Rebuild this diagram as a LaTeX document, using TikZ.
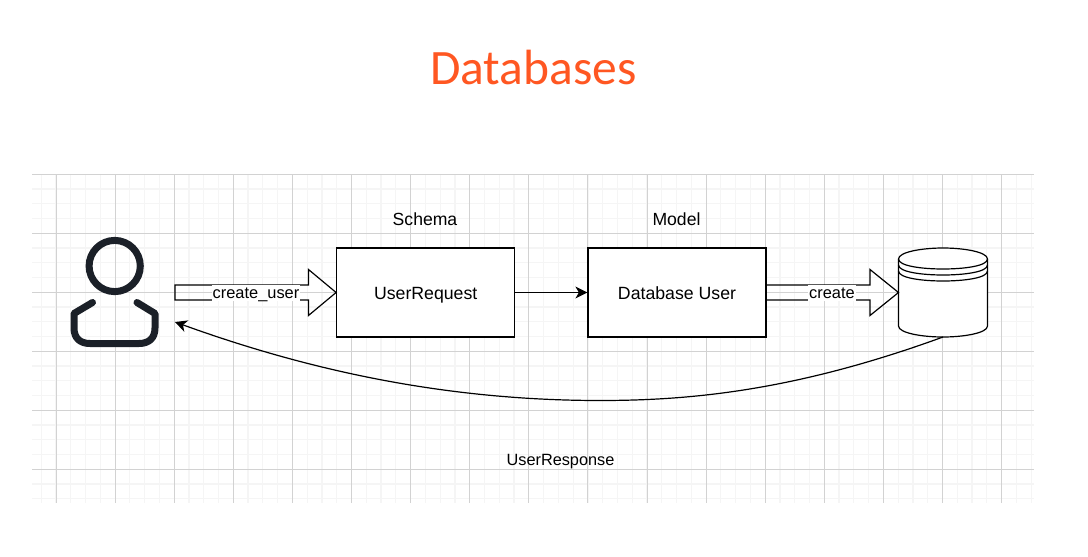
\documentclass[tikz,border=0pt]{standalone}
\usepackage{fontspec}
\setmainfont{Liberation Sans}
\newfontfamily\titlefont{Carlito}
\usetikzlibrary{arrows.meta}
\definecolor{gmajor}{RGB}{210,210,210}
\definecolor{gminor}{RGB}{245,245,245}
\definecolor{titleor}{RGB}{255,87,34}
\definecolor{icon}{RGB}{27,32,40}
\tikzset{
  x=1pt,y=-1pt,
  gridminor/.style={gminor,line width=1.2pt},
  gridmajor/.style={gmajor,line width=1pt},
  shape box/.style={draw=black,line width=1.2pt,fill=white,minimum width=178pt,minimum height=89pt,inner sep=0pt,text height=14pt,text depth=0pt,font=\fontsize{17.7}{20}\selectfont},
  plain label/.style={inner sep=0pt,font=\fontsize{17.6}{20}\selectfont},
  edge label/.style={fill=white,inner sep=1pt,text height=13pt,text depth=1pt,font=\fontsize{16.4}{18}\selectfont},
  flex/.style={draw=black,line width=1.2pt,line join=miter},
  conn/.style={black,line width=1.2pt,-{Stealth[length=12pt,width=12pt,inset=3.5pt]}},
  iconline/.style={icon,line width=7pt,line cap=round,line join=round}
}
\begin{document}
\begin{tikzpicture}
\useasboundingbox (0,0) rectangle (1088,557);
\fill[white] (0,0) rectangle (1088,557);
% minor grid
\foreach \i in {-1,...,66}{
  \pgfmathsetmacro{\xx}{56+14.775*\i}
  \draw[gridminor] (\xx,175) -- (\xx,503);
}
\foreach \i in {0,...,22}{
  \pgfmathsetmacro{\yy}{174.3+14.75*\i}
  \draw[gridminor] (32,\yy) -- (1034,\yy);
}
% major grid
\foreach \i in {0,...,16}{
  \pgfmathsetmacro{\xx}{56+59.1*\i}
  \draw[gridmajor] (\xx,175) -- (\xx,503);
}
\foreach \i in {0,...,5}{
  \pgfmathsetmacro{\yy}{174.3+59*\i}
  \draw[gridmajor] (32,\yy) -- (1034,\yy);
}
\node[font=\titlefont\fontsize{49.5}{54}\selectfont,text=titleor] (title) at (533.5,67) {Databases};
% user icon
\draw[iconline] (114.7,266) circle (25.6);
\draw[iconline] (92.5,302.5) -- (74,313.5) -- (74,328) .. controls (74,338) and (80,343.5) .. (90,343.5) -- (139,343.5) .. controls (149,343.5) and (155,338) .. (155,328) -- (155,313.5) -- (137,302.5);
\coordinate (user) at (175,292.5);
\coordinate (userback) at (175,322);
% boxes
\node[shape box] (req) at (425.7,292.5) {UserRequest};
\node[shape box] (dbu) at (677,292.5) {Database User};
\node[plain label] (schema) at (425,219.5) {Schema};
\node[plain label] (model) at (676.5,219.5) {Model};
% cylinder
\coordinate (cyl) at (943,292.5);
\coordinate (cylw) at (898.5,292.5);
\coordinate (cyls) at (943,337);
\draw[black,line width=1.2pt,fill=white] (898.5,259) .. controls (898.5,252) and (922,248) .. (943,248) .. controls (964,248) and (987.5,252) .. (987.5,259) -- (987.5,326) .. controls (987.5,333) and (964,337) .. (943,337) .. controls (922,337) and (898.5,333) .. (898.5,326) -- cycle;
\draw[black,line width=1.2pt] (898.5,259) .. controls (898.5,266) and (922,269) .. (943,269) .. controls (964,269) and (987.5,266) .. (987.5,259);
\draw[black,line width=1.2pt] (898.5,265) .. controls (898.5,272) and (922,275) .. (943,275) .. controls (964,275) and (987.5,272) .. (987.5,265);
\draw[black,line width=1.2pt] (898.5,271) .. controls (898.5,278) and (922,281) .. (943,281) .. controls (964,281) and (987.5,278) .. (987.5,271);
% flex arrows
\draw[flex] (175,285) -- (308.5,285) -- (308.5,269.5) -- (req.west) -- (308.5,315.5) -- (308.5,300) -- (175,300) -- cycle;
\node[edge label] (l1) at (256,292.5) {create\_user};
\draw[flex] (766,285) -- (870,285) -- (870,269.5) -- (cylw) -- (870,315.5) -- (870,300) -- (766,300);
\node[edge label] (l2) at (832,292.5) {create};
% connectors
\draw[conn] (req) -- (dbu);
\draw[conn] (cyls) .. controls (795,391) and (690,400.5) .. (600,400.5) .. controls (440,400.5) and (302,368) .. (userback);
\node[plain label,font=\fontsize{16.3}{18}\selectfont,text height=12pt,text depth=0pt] (resp) at (560.5,459) {UserResponse};
\end{tikzpicture}
\end{document}
